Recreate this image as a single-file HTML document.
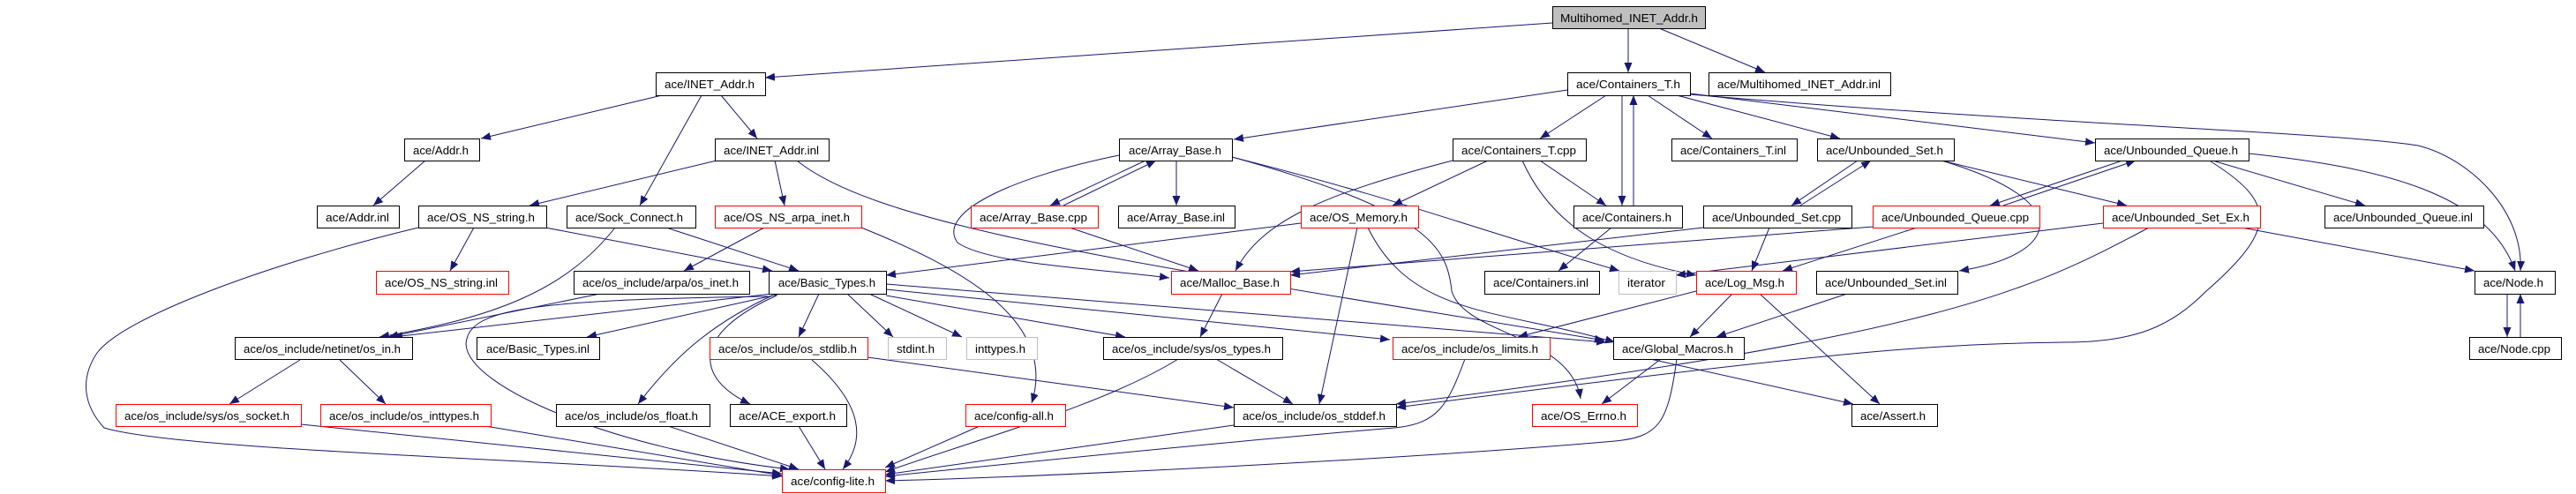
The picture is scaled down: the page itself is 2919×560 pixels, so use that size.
<!DOCTYPE html>
<html><head><meta charset="utf-8"><style>
html,body{margin:0;padding:0;background:#fff;width:2919px;height:560px;overflow:hidden}
svg text{font-family:"Liberation Sans",sans-serif;font-size:13px;fill:#000}
</style></head><body>
<svg width="2919" height="560" viewBox="0 0 2919 560" xmlns="http://www.w3.org/2000/svg">
<defs><marker id="a" markerUnits="userSpaceOnUse" markerWidth="12" markerHeight="10" refX="11" refY="4.5" orient="auto"><path d="M0,0 L11,4.5 L0,9 z" fill="#191970"/></marker></defs>
<g fill="none" stroke="#191970" stroke-width="1" marker-end="url(#a)">
<path d="M1759,26 L867,88"/>
<path d="M1845,32 L1845,82"/>
<path d="M1880,32 L2000,82"/>
<path d="M750,108 L545,157"/>
<path d="M795,108 L725,233"/>
<path d="M817,108 L858,157"/>
<path d="M482,182 L423,233"/>
<path d="M812,182 L600,233"/>
<path d="M878,182 L889,233"/>
<path d="M903,182 C1000,260 1300,300 1818,386"/>
<path d="M537,258 L510,307"/>
<path d="M618,258 L875,307"/>
<path d="M474,258 C300,300 140,360 110,400 C90,430 95,460 118,485 C200,510 600,520 886,540"/>
<path d="M755,258 L905,307"/>
<path d="M697,258 C640,330 560,360 430,382"/>
<path d="M976,258 C1080,300 1200,360 1169,457"/>
<path d="M866,258 L775,307"/>
<path d="M680,333 L440,382"/>
<path d="M875,333 L445,382"/>
<path d="M885,333 L665,382"/>
<path d="M928,333 L905,382"/>
<path d="M875,335 C800,370 760,410 723,458"/>
<path d="M880,335 C780,380 790,430 850,458"/>
<path d="M870,336 C600,340 530,350 528,390 C530,440 700,510 895,532"/>
<path d="M960,333 L1012,382"/>
<path d="M985,333 L1090,382"/>
<path d="M1004,335 L1275,382"/>
<path d="M1004,328 L1575,385"/>
<path d="M1004,322 L1820,388"/>
<path d="M983,405 L1398,462"/>
<path d="M920,408 C980,460 980,500 955,532"/>
<path d="M340,408 L260,458"/>
<path d="M385,408 L437,458"/>
<path d="M341,481 L886,537"/>
<path d="M550,483 L886,539"/>
<path d="M757,483 L905,532"/>
<path d="M905,483 L935,532"/>
<path d="M1298,182 L1190,233"/>
<path d="M1205,233 L1310,182"/>
<path d="M1333,182 L1333,233"/>
<path d="M1268,176 C1150,200 1060,240 1085,275 C1120,300 1250,305 1325,315"/>
<path d="M1396,178 C1600,230 1640,250 1835,307"/>
<path d="M1396,178 C1620,240 1640,280 1645,330 C1660,380 1780,380 1791,452"/>
<path d="M1776,102 L1398,158"/>
<path d="M1820,108 L1745,157"/>
<path d="M1838,108 L1838,233"/>
<path d="M1851,233 L1851,108"/>
<path d="M1867,108 L1940,157"/>
<path d="M1900,108 L2085,157"/>
<path d="M1915,106 L2374,162"/>
<path d="M1915,107 C2300,140 2650,150 2740,165 C2800,180 2860,240 2856,307"/>
<path d="M1646,182 C1500,220 1430,250 1400,307"/>
<path d="M1686,182 L1578,233"/>
<path d="M1745,182 L1820,233"/>
<path d="M1725,182 C1760,260 1830,295 1922,312"/>
<path d="M1474,253 L1004,312"/>
<path d="M1538,258 L1495,458"/>
<path d="M1550,258 C1600,360 1700,350 1830,388"/>
<path d="M1212,258 L1358,307"/>
<path d="M1385,333 L1360,382"/>
<path d="M1826,258 L1766,307"/>
<path d="M1930,258 L1462,312"/>
<path d="M2005,258 L1985,307"/>
<path d="M2040,233 L2120,182"/>
<path d="M2105,182 L2030,233"/>
<path d="M2200,182 L2410,233"/>
<path d="M2200,182 C2360,230 2330,290 2220,307"/>
<path d="M2405,182 L2255,233"/>
<path d="M2270,233 L2420,182"/>
<path d="M2507,182 L2680,233"/>
<path d="M2548,174 C2700,190 2820,220 2850,307"/>
<path d="M2505,183 C2580,230 2580,260 2500,330 C2460,370 2420,388 2340,388 C2200,390 2100,395 1582,462"/>
<path d="M2172,258 L2020,307"/>
<path d="M2123,257 L1462,308"/>
<path d="M2383,253 L1899,312"/>
<path d="M2540,258 L2804,307"/>
<path d="M2435,258 C2300,330 2200,380 1582,458"/>
<path d="M2093,333 L1945,382"/>
<path d="M1963,333 L1915,382"/>
<path d="M1994,333 L2130,458"/>
<path d="M1922,330 L1720,382"/>
<path d="M1882,407 L1815,458"/>
<path d="M1870,407 L2100,458"/>
<path d="M1900,407 C1890,480 1880,495 1830,500 C1600,520 1200,540 1003,545"/>
<path d="M1660,407 C1640,460 1630,480 1580,485 C1400,500 1200,520 1003,540"/>
<path d="M1398,482 L1003,538"/>
<path d="M1335,407 C1250,460 1100,500 1003,535"/>
<path d="M1378,407 L1465,458"/>
<path d="M1110,483 L1003,530"/>
<path d="M2841,333 L2841,382"/>
<path d="M2856,382 L2856,333"/>
</g>
<g stroke-width="1">
<rect x="1759.5" y="7.5" width="173" height="25" fill="#bfbfbf" stroke="#000"/><text x="1768" y="25" textLength="156" lengthAdjust="spacingAndGlyphs">Multihomed_INET_Addr.h</text>
<rect x="743.5" y="82.5" width="124" height="26" fill="#fff" stroke="#000"/><text x="753" y="100" textLength="102" lengthAdjust="spacingAndGlyphs">ace/INET_Addr.h</text>
<rect x="1776.5" y="82.5" width="139" height="26" fill="#fff" stroke="#000"/><text x="1786" y="100" textLength="118" lengthAdjust="spacingAndGlyphs">ace/Containers_T.h</text>
<rect x="1936.5" y="82.5" width="206" height="26" fill="#fff" stroke="#000"/><text x="1946" y="100" textLength="185" lengthAdjust="spacingAndGlyphs">ace/Multihomed_INET_Addr.inl</text>
<rect x="458.5" y="157.5" width="85" height="25" fill="#fff" stroke="#000"/><text x="468" y="175" textLength="63" lengthAdjust="spacingAndGlyphs">ace/Addr.h</text>
<rect x="810.5" y="157.5" width="129" height="25" fill="#fff" stroke="#000"/><text x="820" y="175" textLength="108" lengthAdjust="spacingAndGlyphs">ace/INET_Addr.inl</text>
<rect x="1268.5" y="157.5" width="128" height="25" fill="#fff" stroke="#000"/><text x="1279" y="175" textLength="105" lengthAdjust="spacingAndGlyphs">ace/Array_Base.h</text>
<rect x="1646.5" y="157.5" width="151" height="25" fill="#fff" stroke="#000"/><text x="1656" y="175" textLength="130" lengthAdjust="spacingAndGlyphs">ace/Containers_T.cpp</text>
<rect x="1894.5" y="157.5" width="142" height="25" fill="#fff" stroke="#000"/><text x="1904" y="175" textLength="120" lengthAdjust="spacingAndGlyphs">ace/Containers_T.inl</text>
<rect x="2059.5" y="157.5" width="155" height="25" fill="#fff" stroke="#000"/><text x="2069" y="175" textLength="133" lengthAdjust="spacingAndGlyphs">ace/Unbounded_Set.h</text>
<rect x="2374.5" y="157.5" width="174" height="25" fill="#fff" stroke="#000"/><text x="2384" y="175" textLength="152" lengthAdjust="spacingAndGlyphs">ace/Unbounded_Queue.h</text>
<rect x="359.5" y="233.5" width="93" height="25" fill="#fff" stroke="#000"/><text x="369" y="251" textLength="72" lengthAdjust="spacingAndGlyphs">ace/Addr.inl</text>
<rect x="474.5" y="233.5" width="145" height="25" fill="#fff" stroke="#000"/><text x="484" y="251" textLength="122" lengthAdjust="spacingAndGlyphs">ace/OS_NS_string.h</text>
<rect x="642.5" y="233.5" width="146" height="25" fill="#fff" stroke="#000"/><text x="652" y="251" textLength="122" lengthAdjust="spacingAndGlyphs">ace/Sock_Connect.h</text>
<rect x="810.5" y="233.5" width="166" height="25" fill="#fff" stroke="#f00"/><text x="820" y="251" textLength="143" lengthAdjust="spacingAndGlyphs">ace/OS_NS_arpa_inet.h</text>
<rect x="1100.5" y="233.5" width="144" height="25" fill="#fff" stroke="#f00"/><text x="1110" y="251" textLength="122" lengthAdjust="spacingAndGlyphs">ace/Array_Base.cpp</text>
<rect x="1267.5" y="233.5" width="132" height="25" fill="#fff" stroke="#000"/><text x="1277" y="251" textLength="111" lengthAdjust="spacingAndGlyphs">ace/Array_Base.inl</text>
<rect x="1474.5" y="233.5" width="133" height="25" fill="#fff" stroke="#f00"/><text x="1484" y="251" textLength="111" lengthAdjust="spacingAndGlyphs">ace/OS_Memory.h</text>
<rect x="1783.5" y="233.5" width="123" height="25" fill="#fff" stroke="#000"/><text x="1793" y="251" textLength="101" lengthAdjust="spacingAndGlyphs">ace/Containers.h</text>
<rect x="1930.5" y="233.5" width="168" height="25" fill="#fff" stroke="#000"/><text x="1940" y="251" textLength="146" lengthAdjust="spacingAndGlyphs">ace/Unbounded_Set.cpp</text>
<rect x="2122.5" y="233.5" width="189" height="25" fill="#fff" stroke="#f00"/><text x="2132" y="251" textLength="167" lengthAdjust="spacingAndGlyphs">ace/Unbounded_Queue.cpp</text>
<rect x="2383.5" y="233.5" width="178" height="25" fill="#fff" stroke="#f00"/><text x="2393" y="251" textLength="156" lengthAdjust="spacingAndGlyphs">ace/Unbounded_Set_Ex.h</text>
<rect x="2634.5" y="233.5" width="180" height="25" fill="#fff" stroke="#000"/><text x="2644" y="251" textLength="158" lengthAdjust="spacingAndGlyphs">ace/Unbounded_Queue.inl</text>
<rect x="426.5" y="307.5" width="150" height="26" fill="#fff" stroke="#f00"/><text x="436" y="325" textLength="128" lengthAdjust="spacingAndGlyphs">ace/OS_NS_string.inl</text>
<rect x="650.5" y="307.5" width="199" height="26" fill="#fff" stroke="#000"/><text x="660" y="325" textLength="177" lengthAdjust="spacingAndGlyphs">ace/os_include/arpa/os_inet.h</text>
<rect x="871.5" y="307.5" width="133" height="26" fill="#fff" stroke="#000"/><text x="882" y="325" textLength="110" lengthAdjust="spacingAndGlyphs">ace/Basic_Types.h</text>
<rect x="1327.5" y="307.5" width="135" height="26" fill="#fff" stroke="#f00"/><text x="1337" y="325" textLength="113" lengthAdjust="spacingAndGlyphs">ace/Malloc_Base.h</text>
<rect x="1682.5" y="307.5" width="130" height="26" fill="#fff" stroke="#000"/><text x="1692" y="325" textLength="108" lengthAdjust="spacingAndGlyphs">ace/Containers.inl</text>
<rect x="1834.5" y="307.5" width="65" height="26" fill="#fff" stroke="#bfbfbf"/><text x="1844" y="325" textLength="43" lengthAdjust="spacingAndGlyphs">iterator</text>
<rect x="1922.5" y="307.5" width="113" height="26" fill="#fff" stroke="#f00"/><text x="1932" y="325" textLength="90" lengthAdjust="spacingAndGlyphs">ace/Log_Msg.h</text>
<rect x="2058.5" y="307.5" width="160" height="26" fill="#fff" stroke="#000"/><text x="2068" y="325" textLength="138" lengthAdjust="spacingAndGlyphs">ace/Unbounded_Set.inl</text>
<rect x="2804.5" y="307.5" width="91" height="26" fill="#fff" stroke="#000"/><text x="2814" y="325" textLength="68" lengthAdjust="spacingAndGlyphs">ace/Node.h</text>
<rect x="266.5" y="382.5" width="201" height="25" fill="#fff" stroke="#000"/><text x="276" y="400" textLength="178" lengthAdjust="spacingAndGlyphs">ace/os_include/netinet/os_in.h</text>
<rect x="540.5" y="382.5" width="139" height="25" fill="#fff" stroke="#000"/><text x="551" y="400" textLength="117" lengthAdjust="spacingAndGlyphs">ace/Basic_Types.inl</text>
<rect x="804.5" y="382.5" width="179" height="25" fill="#fff" stroke="#f00"/><text x="814" y="400" textLength="157" lengthAdjust="spacingAndGlyphs">ace/os_include/os_stdlib.h</text>
<rect x="1006.5" y="382.5" width="66" height="25" fill="#fff" stroke="#bfbfbf"/><text x="1016" y="400" textLength="43" lengthAdjust="spacingAndGlyphs">stdint.h</text>
<rect x="1095.5" y="382.5" width="80" height="25" fill="#fff" stroke="#bfbfbf"/><text x="1105" y="400" textLength="57" lengthAdjust="spacingAndGlyphs">inttypes.h</text>
<rect x="1250.5" y="382.5" width="203" height="25" fill="#fff" stroke="#000"/><text x="1260" y="400" textLength="180" lengthAdjust="spacingAndGlyphs">ace/os_include/sys/os_types.h</text>
<rect x="1578.5" y="382.5" width="178" height="25" fill="#fff" stroke="#f00"/><text x="1588" y="400" textLength="155" lengthAdjust="spacingAndGlyphs">ace/os_include/os_limits.h</text>
<rect x="1828.5" y="382.5" width="148" height="25" fill="#fff" stroke="#000"/><text x="1838" y="400" textLength="126" lengthAdjust="spacingAndGlyphs">ace/Global_Macros.h</text>
<rect x="2798.5" y="382.5" width="104" height="25" fill="#fff" stroke="#000"/><text x="2808" y="400" textLength="82" lengthAdjust="spacingAndGlyphs">ace/Node.cpp</text>
<rect x="131.5" y="458.5" width="210" height="25" fill="#fff" stroke="#f00"/><text x="141" y="476" textLength="187" lengthAdjust="spacingAndGlyphs">ace/os_include/sys/os_socket.h</text>
<rect x="363.5" y="458.5" width="193" height="25" fill="#fff" stroke="#f00"/><text x="373" y="476" textLength="170" lengthAdjust="spacingAndGlyphs">ace/os_include/os_inttypes.h</text>
<rect x="630.5" y="458.5" width="174" height="25" fill="#fff" stroke="#000"/><text x="640" y="476" textLength="151" lengthAdjust="spacingAndGlyphs">ace/os_include/os_float.h</text>
<rect x="827.5" y="458.5" width="132" height="25" fill="#fff" stroke="#000"/><text x="837" y="476" textLength="110" lengthAdjust="spacingAndGlyphs">ace/ACE_export.h</text>
<rect x="1094.5" y="458.5" width="113" height="25" fill="#fff" stroke="#f00"/><text x="1104" y="476" textLength="90" lengthAdjust="spacingAndGlyphs">ace/config-all.h</text>
<rect x="1398.5" y="458.5" width="184" height="25" fill="#fff" stroke="#000"/><text x="1408" y="476" textLength="162" lengthAdjust="spacingAndGlyphs">ace/os_include/os_stddef.h</text>
<rect x="1736.5" y="458.5" width="119" height="25" fill="#fff" stroke="#f00"/><text x="1746" y="476" textLength="97" lengthAdjust="spacingAndGlyphs">ace/OS_Errno.h</text>
<rect x="2098.5" y="458.5" width="97" height="25" fill="#fff" stroke="#000"/><text x="2108" y="476" textLength="74" lengthAdjust="spacingAndGlyphs">ace/Assert.h</text>
<rect x="886.5" y="532.5" width="117" height="26" fill="#fff" stroke="#f00"/><text x="896" y="550" textLength="95" lengthAdjust="spacingAndGlyphs">ace/config-lite.h</text>
</g>
</svg>
</body></html>
